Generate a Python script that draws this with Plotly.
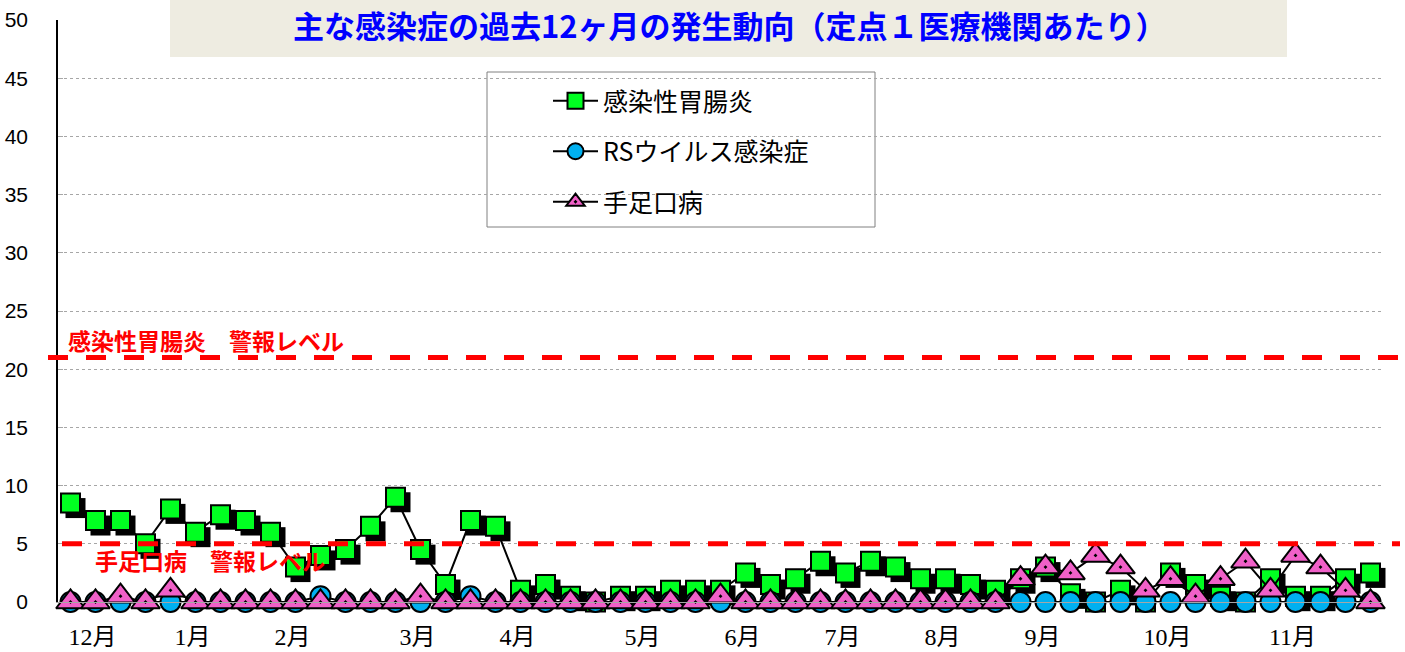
import plotly.graph_objects as go

# ---------------- data ----------------
weeks = list(range(53))
gastro = [8.5, 7.0, 7.0, 5.0, 8.0, 6.0, 7.5, 7.0, 6.0, 3.0,
          4.0, 4.5, 6.5, 9.0, 4.5, 1.5, 7.0, 6.5, 1.0, 1.5,
          0.5, 0.0, 0.5, 0.5, 1.0, 1.0, 1.0, 2.5, 1.5, 2.0,
          3.5, 2.5, 3.5, 3.0, 2.0, 2.0, 1.5, 1.0, 2.0, 3.0,
          0.7, 0.0, 1.0, 0.0, 2.5, 1.5, 0.5, 0.0, 2.0, 0.5,
          0.5, 2.0, 2.5]
rsv = [0, 0, 0, 0, 0, 0, 0, 0, 0, 0,
       0.5, 0, 0, 0, 0, 0, 0.5, 0, 0, 0,
       0, 0, 0, 0, 0, 0, 0, 0, 0, 0,
       0, 0, 0, 0, 0, 0, 0, 0, 0, 0,
       0, 0, 0, 0, 0, 0, 0, 0, 0, 0,
       0, 0, 0]
hfmd = [0, 0, 0.5, 0, 1.0, 0, 0, 0, 0, 0,
        0, 0, 0, 0, 0.5, 0, 0, 0, 0, 0,
        0, 0, 0, 0, 0, 0, 0.5, 0, 0, 0,
        0, 0, 0, 0, 0, 0, 0, 0, 2.0, 3.0,
        2.5, 4.0, 3.0, 1.0, 2.0, 0.5, 2.0, 3.5, 1.0, 4.0,
        3.0, 1.0, 0]
month_labels = ["12月", "1月", "2月", "3月", "4月", "5月", "6月", "7月", "8月", "9月", "10月", "11月"]
month_weeks = [1, 5, 9, 14, 18, 23, 27, 31, 35, 39, 44, 49]
series_names = ["感染性胃腸炎", "RSウイルス感染症", "手足口病"]
gastro_alert = 21
hfmd_alert = 5
title_text = "主な感染症の過去12ヶ月の発生動向（定点１医療機関あたり）"
gastro_alert_label = "感染性胃腸炎　警報レベル"
hfmd_alert_label = "手足口病　警報レベル"

# ---------------- figure ----------------
W, H = 1405, 652
ML, MR, MT, MB = 58, 22, 20, 50
PW, PH = W - ML - MR, H - MT - MB


def px_x(p):
    return (p - ML) / PW


def px_y(p):
    return 1 - (p - MT) / PH


fig = go.Figure()

# marker shadows of the square series (a visual effect, offset from the data)
fig.add_trace(go.Scatter(
    x=[w + 0.2 for w in weeks], y=[v - 0.43 for v in gastro], mode="markers",
    marker=dict(symbol="square", size=20, color="black", line=dict(width=0)),
    showlegend=False, hoverinfo="skip", cliponaxis=False))

fig.add_trace(go.Scatter(
    x=weeks, y=gastro, mode="lines+markers", name=series_names[0], legendgroup="g1",
    line=dict(color="black", width=2),
    marker=dict(symbol="square", size=19, color="#00FF21", line=dict(color="black", width=2)),
    cliponaxis=False))
fig.add_trace(go.Scatter(
    x=weeks, y=rsv, mode="lines+markers", name=series_names[1], legendgroup="g2",
    line=dict(color="black", width=2),
    marker=dict(symbol="circle", size=20, color="#00B0F0", line=dict(color="black", width=2)),
    cliponaxis=False))
fig.add_trace(go.Scatter(
    x=weeks, y=hfmd, mode="lines+markers", name=series_names[2], legendgroup="g3",
    line=dict(color="black", width=2),
    marker=dict(symbol="triangle-up-dot", size=25, color="#F060C8", line=dict(color="black", width=2)),
    cliponaxis=False))

shapes = [
    # title box
    dict(type="rect", xref="paper", yref="paper", x0=px_x(170), x1=px_x(1287),
         y0=px_y(57), y1=px_y(0), fillcolor="#EEECE1", line=dict(width=0), layer="between"),
    # legend box
    dict(type="rect", xref="paper", yref="paper", x0=px_x(487), x1=px_x(875),
         y0=px_y(227), y1=px_y(72), fillcolor="white", line=dict(color="#808080", width=1),
         layer="between"),
    # alert lines
    dict(type="line", xref="paper", yref="y", x0=px_x(48), x1=px_x(1400),
         y0=gastro_alert, y1=gastro_alert, line=dict(color="#FF0000", width=5, dash="20px,18px"),
         layer="above"),
    dict(type="line", xref="paper", yref="y", x0=px_x(62), x1=px_x(1400),
         y0=hfmd_alert, y1=hfmd_alert, line=dict(color="#FF0000", width=5, dash="20px,18px"),
         layer="above"),
]

annotations = [
    dict(text="<b>" + title_text + "</b>", xref="paper", yref="paper", x=px_x(730), y=px_y(25),
         xanchor="center", yanchor="middle", showarrow=False,
         font=dict(size=31, color="#0000FF", family="Noto Sans CJK JP")),
    dict(text="<b>" + gastro_alert_label + "</b>", xref="paper", yref="paper", x=px_x(66), y=px_y(340),
         xanchor="left", yanchor="middle", showarrow=False,
         font=dict(size=23, color="#FF0000", family="Noto Sans CJK JP")),
    dict(text="<b>" + hfmd_alert_label + "</b>", xref="paper", yref="paper", x=px_x(93), y=px_y(560),
         xanchor="left", yanchor="middle", showarrow=False,
         font=dict(size=23, color="#FF0000", family="Noto Sans CJK JP")),
]

fig.update_layout(
    width=W, height=H,
    margin=dict(l=ML, r=MR, t=MT, b=MB, autoexpand=False),
    plot_bgcolor="white", paper_bgcolor="white",
    font=dict(family="Noto Sans CJK JP", color="black"),
    shapes=shapes, annotations=annotations,
    showlegend=True,
    legend=dict(x=px_x(548), y=px_y(78), xanchor="left", yanchor="top",
                bgcolor="rgba(0,0,0,0)", borderwidth=0,
                font=dict(size=25, color="black", family="Noto Sans CJK JP"),
                traceorder="grouped", tracegroupgap=15, itemwidth=45),
    xaxis=dict(range=[-0.5, 52.5], tickmode="array", tickvals=month_weeks, ticktext=month_labels,
               automargin=False,
               showgrid=False, zeroline=False, showline=True, linecolor="#A6A6A6", linewidth=1,
               ticks="", ticklabelstandoff=13, ticklabelshift=-3,
               tickfont=dict(family="Liberation Serif, Noto Sans CJK JP", size=24, color="black")),
    yaxis=dict(range=[0, 50], tickmode="linear", tick0=0, dtick=5, automargin=False,
               showgrid=True, gridcolor="#A6A6A6", griddash="dot", gridwidth=1,
               zeroline=False, showline=True, linecolor="black", linewidth=1.5,
               ticks="inside", ticklen=5, tickcolor="#A6A6A6",
               ticklabelstandoff=24,
               tickfont=dict(family="Liberation Sans", size=21, color="black")),
)

fig.write_html("out.html",
               config={"displayModeBar": False},
               post_script="document.body.style.margin='0px';document.body.style.overflow='hidden';")
